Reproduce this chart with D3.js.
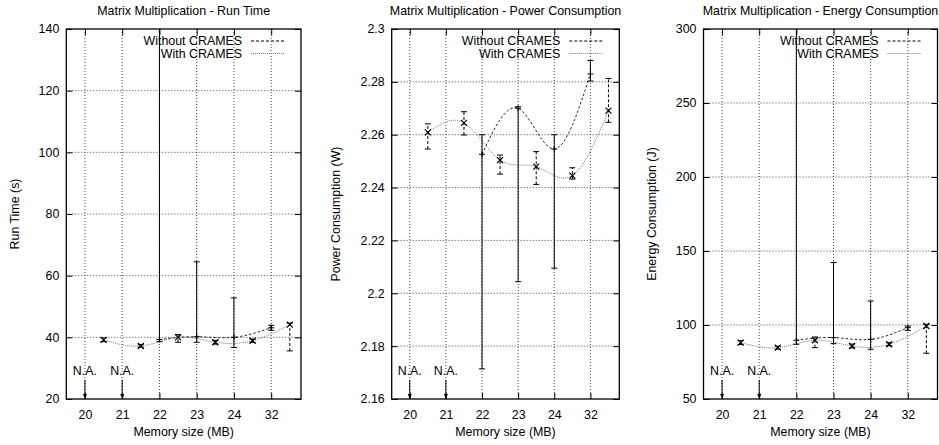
<!DOCTYPE html>
<html>
<head>
<meta charset="utf-8">
<script src="https://cdn.jsdelivr.net/npm/d3@7"></script>
<style>
    body { margin: 0; background: #fff; }
    svg text { font-family: "Liberation Sans", Arial, Helvetica, sans-serif; font-size: 12.4px; fill: #000; }
</style>
</head>
<body>
<svg id="chart" width="939" height="445"></svg>
<script>
// memory sizes on the x axis (ordinal, one slot each)
const categories = ["20", "21", "22", "23", "24", "32"];
// "Without CRAMES" sits on the category, "With CRAMES" half a slot to the right
const withoutSlots = [2, 3, 4, 5];
const withSlots = [0.5, 1.5, 2.5, 3.5, 4.5, 5.5];
const naCategories = [0, 1];

// run time (s)
const runWithoutMean = [39.3, 40.2, 40.0, 43.1];
const runWithoutLow = [38.6, 38.4, 36.7, 42.3];
const runWithoutHigh = [150, 64.5, 52.8, 43.9];
const runWithMean = [39.2, 37.2, 40.0, 38.4, 38.9, 44.1];
const runWithLow = [38.6, 36.8, 38.4, 37.8, 38.4, 35.6];
const runWithHigh = [39.8, 37.6, 40.9, 39.0, 39.4, 44.6];
const runTicks = [20, 40, 60, 80, 100, 120, 140];

// power consumption (W)
const powerWithoutMean = [2.2526, 2.2700, 2.2546, 2.2830];
const powerWithoutLow = [2.1714, 2.2044, 2.2095, 2.2803];
const powerWithoutHigh = [2.2600, 2.2706, 2.2600, 2.2881];
const powerWithMean = [2.2609, 2.2645, 2.2504, 2.2479, 2.2445, 2.2691];
const powerWithLow = [2.2546, 2.2599, 2.2451, 2.2412, 2.2432, 2.2647];
const powerWithHigh = [2.2641, 2.2687, 2.2523, 2.2536, 2.2475, 2.2813];
const powerTicks = [2.16, 2.18, 2.2, 2.22, 2.24, 2.26, 2.28, 2.3];

// energy consumption (J)
const energyWithoutMean = [89.7, 91.5, 90.3, 98.2];
const energyWithoutLow = [87.0, 87.4, 83.6, 96.4];
const energyWithoutHigh = [330, 142.2, 116.2, 99.3];
const energyWithMean = [88.1, 84.7, 89.7, 85.8, 87.0, 99.3];
const energyWithLow = [86.8, 83.7, 84.7, 84.5, 86.0, 80.9];
const energyWithHigh = [89.4, 85.7, 91.9, 87.1, 88.0, 100.5];
const energyTicks = [50, 100, 150, 200, 250, 300];

const TOP = 29, BOTTOM = 399;
const TICK = 6, CAP = 3, MARK = 3;

const panels = [
    {
        title: "Matrix Multiplication - Run Time", yLabel: "Run Time (s)",
        left: 66.3, right: 301, yLabelX: 19, ticks: runTicks,
        wo: [runWithoutMean, runWithoutLow, runWithoutHigh],
        wi: [runWithMean, runWithLow, runWithHigh]
    },
    {
        title: "Matrix Multiplication - Power Consumption", yLabel: "Power Consumption (W)",
        left: 391.7, right: 619.3, yLabelX: 340, ticks: powerTicks,
        wo: [powerWithoutMean, powerWithoutLow, powerWithoutHigh],
        wi: [powerWithMean, powerWithLow, powerWithHigh]
    },
    {
        title: "Matrix Multiplication - Energy Consumption", yLabel: "Energy Consumption (J)",
        left: 703.5, right: 937.5, yLabelX: 656, ticks: energyTicks,
        wo: [energyWithoutMean, energyWithoutLow, energyWithoutHigh],
        wi: [energyWithMean, energyWithLow, energyWithHigh]
    }
];

const svg = d3.select("#chart");

panels.forEach((p, pi) => {
    const x = d3.scaleLinear().domain([-0.5, 5.8]).range([p.left, p.right]);
    const y = d3.scaleLinear().domain(d3.extent(p.ticks)).range([BOTTOM, TOP]);
    const g = svg.append("g");
    const midX = (p.left + p.right) / 2;

    g.append("clipPath").attr("id", "clip" + pi)
        .append("rect")
        .attr("x", p.left).attr("y", TOP)
        .attr("width", p.right - p.left).attr("height", BOTTOM - TOP);

    //dotted grid
    g.append("g").selectAll("line.h")
        .data(p.ticks.slice(1, -1))
        .enter().append("line")
        .attr("x1", p.left).attr("x2", p.right)
        .attr("y1", d => y(d)).attr("y2", d => y(d))
        .attr("stroke", "#444").attr("stroke-width", 1).attr("stroke-dasharray", "1,2");
    g.append("g").selectAll("line.v")
        .data(categories.map((c, i) => i))
        .enter().append("line")
        .attr("x1", d => x(d)).attr("x2", d => x(d))
        .attr("y1", TOP).attr("y2", BOTTOM)
        .attr("stroke", "#444").attr("stroke-width", 1).attr("stroke-dasharray", "1,2");

    //axes with inward ticks on all four sides
    const fmt = d => String(+d.toFixed(2));
    g.append("g").attr("transform", `translate(${p.left},0)`)
        .call(d3.axisLeft(y).tickValues(p.ticks).tickSize(-TICK).tickPadding(7).tickFormat(fmt));
    g.append("g").attr("transform", `translate(${p.right},0)`)
        .call(d3.axisRight(y).tickValues(p.ticks).tickSize(-TICK).tickFormat(""));
    g.append("g").attr("transform", `translate(0,${BOTTOM})`)
        .call(d3.axisBottom(x).tickValues(categories.map((c, i) => i)).tickSize(-TICK).tickPadding(11)
            .tickFormat(i => categories[i]));
    g.append("g").attr("transform", `translate(0,${TOP})`)
        .call(d3.axisTop(x).tickValues(categories.map((c, i) => i)).tickSize(-TICK).tickFormat(""));
    g.selectAll(".domain").remove();
    g.selectAll(".tick line").attr("stroke", "#000");
    g.selectAll(".tick text").style("font-size", "12.4px").attr("font-family", null);

    g.append("rect")
        .attr("x", p.left).attr("y", TOP)
        .attr("width", p.right - p.left).attr("height", BOTTOM - TOP)
        .attr("fill", "none").attr("stroke", "#000").attr("stroke-width", 1.3);

    //titles and labels
    g.append("text").attr("x", midX).attr("y", 15).attr("text-anchor", "middle").text(p.title);
    g.append("text").attr("x", midX).attr("y", 436).attr("text-anchor", "middle").text("Memory size (MB)");
    g.append("text")
        .attr("transform", `translate(${p.yLabelX},${(TOP + BOTTOM) / 2}) rotate(-90)`)
        .attr("text-anchor", "middle").text(p.yLabel);

    const plot = g.append("g").attr("clip-path", `url(#clip${pi})`);
    const curve = d3.line().x(d => x(d[0])).y(d => y(d[1])).curve(d3.curveNatural);

    //smoothed curves
    plot.append("path")
        .attr("d", curve(withSlots.map((s, i) => [s, p.wi[0][i]])))
        .attr("fill", "none").attr("stroke", "#7a7a7a").attr("stroke-width", 1).attr("stroke-dasharray", "1,1");
    plot.append("path")
        .attr("d", curve(withoutSlots.map((s, i) => [s, p.wo[0][i]])))
        .attr("fill", "none").attr("stroke", "#111").attr("stroke-width", 0.9).attr("stroke-dasharray", "2.5,2");

    //error bars
    const bars = (slots, series, dash) => {
        slots.forEach((s, i) => {
            const cx = x(s), lo = y(series[1][i]), hi = y(series[2][i]);
            plot.append("line").attr("x1", cx).attr("x2", cx).attr("y1", lo).attr("y2", hi)
                .attr("stroke", "#000").attr("stroke-width", 1).attr("stroke-dasharray", dash);
            [lo, hi].forEach(v => {
                plot.append("line").attr("x1", cx - CAP).attr("x2", cx + CAP).attr("y1", v).attr("y2", v)
                    .attr("stroke", "#000").attr("stroke-width", 1);
            });
        });
    };
    bars(withoutSlots, p.wo, null);
    bars(withSlots, p.wi, "3,2");

    //point markers: + for without, x for with
    withoutSlots.forEach((s, i) => {
        const cx = x(s), cy = y(p.wo[0][i]);
        plot.append("path")
            .attr("d", `M${cx - MARK},${cy}H${cx + MARK}M${cx},${cy - MARK}V${cy + MARK}`)
            .attr("stroke", "#000").attr("stroke-width", 1);
    });
    withSlots.forEach((s, i) => {
        const cx = x(s), cy = y(p.wi[0][i]);
        plot.append("path")
            .attr("d", `M${cx - MARK},${cy - MARK}L${cx + MARK},${cy + MARK}M${cx - MARK},${cy + MARK}L${cx + MARK},${cy - MARK}`)
            .attr("stroke", "#000").attr("stroke-width", 1.2);
    });

    //N.A. arrows
    naCategories.forEach(c => {
        const cx = x(c);
        g.append("text").attr("x", cx).attr("y", BOTTOM - 24).attr("text-anchor", "middle").text("N.A.");
        g.append("line").attr("x1", cx).attr("x2", cx).attr("y1", BOTTOM - 19).attr("y2", BOTTOM - 4)
            .attr("stroke", "#000").attr("stroke-width", 1);
        g.append("path").attr("d", `M${cx - 2},${BOTTOM - 5}L${cx + 2},${BOTTOM - 5}L${cx},${BOTTOM}Z`)
            .attr("fill", "#000");
    });

    //key
    const key = [
        {label: "Without CRAMES", stroke: "#000", dash: "3,2"},
        {label: "With CRAMES", stroke: "#7a7a7a", dash: "1,1"}
    ];
    key.forEach((k, i) => {
        const ky = TOP + 12 + i * 12.5;
        g.append("text").attr("x", p.right - 59).attr("y", ky + 4).attr("text-anchor", "end").text(k.label);
        g.append("line").attr("x1", p.right - 50).attr("x2", p.right - 17).attr("y1", ky).attr("y2", ky)
            .attr("stroke", k.stroke).attr("stroke-width", 1).attr("stroke-dasharray", k.dash);
    });
});
</script>
</body>
</html>
